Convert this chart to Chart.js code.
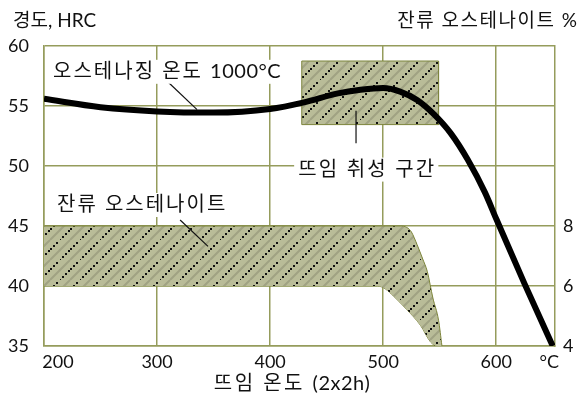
<!DOCTYPE html>
<html>
<head>
<meta charset="utf-8">
<script src="https://cdn.jsdelivr.net/npm/chart.js@4.4.0/dist/chart.umd.min.js"></script>
<style>
  html, body { margin: 0; background: #fff; }
</style>
</head>
<body>
<canvas id="chart" width="585" height="407"></canvas>
<script>
// -------------------------------
// DONNÉES
// -------------------------------
const xTicks = [200, 300, 400, 500, 600];
const yTicks = [35, 40, 45, 50, 55, 60];
const austTicks = [4, 6, 8];

// dureté HRC selon la température de revenu
const tempX    = [200, 250, 300, 350, 400, 430, 460, 480, 500, 515, 530, 545, 560, 575, 590, 600, 625, 650];
const hardness = [55.6, 54.9, 54.55, 54.45, 54.75, 55.3, 56.05, 56.35, 56.5, 56.2, 55.5, 54.3, 52.7, 50.5, 47.8, 45.6, 40.2, 35];

// austénite résiduelle (%) : bornes haute et basse de la bande
const austUpperX = [200, 515, 521, 525, 530, 535, 539, 544, 549, 552];
const austUpper  = [8, 8, 7.95, 7.8, 7.38, 6.9, 6.49, 5.6, 4.86, 4];
const austLowerX = [200, 495, 502, 509, 521, 533, 542, 548, 552];
const austLower  = [6, 6, 5.9, 5.67, 5.21, 4.69, 4.13, 4, 4];

// zone de fragilité de revenu
const brittleX = [428, 549];
const brittleY = [53.45, 58.75];

// -------------------------------
// STYLES
// -------------------------------
const FONT = "Lato, 'Noto Sans CJK KR', sans-serif";
const gridColor = '#959c5c';
const edgeColor = '#7d853c';

function makeHatch() {
    const c = document.createElement('canvas');
    c.width = 20; c.height = 20;
    const g = c.getContext('2d');
    g.fillStyle = '#b9bc98';
    g.fillRect(0, 0, 20, 20);
    // ligne grise floue entre deux lignes noires
    g.strokeStyle = 'rgba(60,60,50,0.2)';
    g.lineWidth = 2;
    g.beginPath();
    g.moveTo(-10, 20); g.lineTo(10, 0);
    g.moveTo(10, 20); g.lineTo(30, 0);
    g.stroke();
    g.fillStyle = '#111';
    for (let i = 0; i < 7; i++) {
        const t = i * 20 / 7;
        g.fillRect(Math.round(t) - 1, Math.round(20 - t) - 1, 2, 2);
    }
    return g.createPattern(c, 'repeat');
}
const hatch = makeHatch();

const pts = (xs, ys) => xs.map((v, i) => ({ x: v, y: ys[i] }));

// texte en morceaux : coréen espacé, latin normal
function drawParts(ctx, parts, x0, y0, align) {
    const widths = parts.map(p => { ctx.letterSpacing = p[1] + 'px'; return ctx.measureText(p[0]).width; });
    const total = widths.reduce((a, b) => a + b, 0);
    let x = align === 'center' ? x0 - total / 2 : align === 'right' ? x0 - total : x0;
    ctx.textAlign = 'left';
    parts.forEach((p, i) => {
        ctx.letterSpacing = p[1] + 'px';
        ctx.fillText(p[0], x, y0);
        x += widths[i];
    });
    ctx.letterSpacing = '0px';
    return total;
}

// -------------------------------
// TEXTES ET ANNOTATIONS
// -------------------------------
const annotations = {
    id: 'annotations',
    afterDatasetsDraw(chart) {
        const { ctx, scales: { x, y } } = chart;
        const px = v => x.getPixelForValue(v);
        const py = v => y.getPixelForValue(v);

        ctx.save();
        ctx.strokeStyle = '#111';
        ctx.lineWidth = 1.2;
        const leader = (x1, y1, x2, y2) => {
            ctx.beginPath();
            ctx.moveTo(px(x1), py(y1));
            ctx.lineTo(px(x2), py(y2));
            ctx.stroke();
        };
        leader(309.7, 57.0, 335.4, 54.7);
        leader(476, 54.6, 476, 51.9);
        leader(320.4, 45.5, 345.1, 43.3);

        ctx.font = '20px ' + FONT;
        ctx.textBaseline = 'middle';
        const label = (parts, xv, yv) => {
            const w = parts.reduce((s, p) => { ctx.letterSpacing = p[1] + 'px'; return s + ctx.measureText(p[0]).width; }, 0);
            ctx.fillStyle = '#fff';
            ctx.fillRect(px(xv) - 4, py(yv) - 12, w + 6, 24);
            ctx.fillStyle = '#111';
            drawParts(ctx, parts, px(xv), py(yv), 'left');
        };
        label([['오스테나징 온도 ', 2], ['1000°C', 0.5]], 208, 57.85);
        label([['뜨임 취성 구간', 2.2]], 424.8, 49.7);
        label([['잔류 오스테나이트', 2]], 211.5, 46.75);
        ctx.restore();
    },
    afterDraw(chart) {
        const { ctx, scales: { x } } = chart;
        ctx.save();
        ctx.fillStyle = '#111';
        ctx.textBaseline = 'middle';
        ctx.font = '19px ' + FONT;
        ctx.textAlign = 'left';
        ctx.fillText('경도, HRC', 13, 21);
        drawParts(ctx, [['잔류 오스테나이트 ', 1.5], ['%', 0]], 577, 21, 'right');
        ctx.font = '20px ' + FONT;
        drawParts(ctx, [['뜨임 온도 ', 2.5], ['(2x2h)', 0.5]], 292, 384, 'center');

        ctx.font = '18px ' + FONT;
        ctx.textAlign = 'center';
        const ty = x.top + 5 + 10.8;
        ctx.fillText('200', x.getPixelForValue(200) + 14, ty);
        ctx.fillText('°C', x.getPixelForValue(647), ty);
        ctx.restore();
    }
};

// -------------------------------
// GRAPHIQUE
// -------------------------------
const ctx = document.getElementById('chart').getContext('2d');
new Chart(ctx, {
    type: 'line',
    data: {
        datasets: [
            {
                label: '경도',
                data: pts(tempX, hardness),
                borderColor: '#000',
                borderWidth: 6,
                pointRadius: 0,
                cubicInterpolationMode: 'monotone',
                fill: false,
                yAxisID: 'y',
                order: 0
            },
            {
                label: '뜨임 취성 구간',
                data: [
                    { x: brittleX[0], y: brittleY[0] },
                    { x: brittleX[0], y: brittleY[1] },
                    { x: brittleX[1], y: brittleY[1] },
                    { x: brittleX[1], y: brittleY[0] },
                    { x: brittleX[0], y: brittleY[0] }
                ],
                borderColor: edgeColor,
                borderWidth: 1,
                backgroundColor: hatch,
                pointRadius: 0,
                tension: 0,
                fill: 'shape',
                yAxisID: 'y',
                order: 1
            },
            {
                label: 'lower',
                data: pts(austLowerX, austLower),
                borderColor: edgeColor,
                borderWidth: 1,
                pointRadius: 0,
                cubicInterpolationMode: 'monotone',
                fill: false,
                yAxisID: 'y2',
                order: 3
            },
            {
                label: '잔류 오스테나이트',
                data: pts(austUpperX, austUpper),
                borderColor: edgeColor,
                borderWidth: 1,
                backgroundColor: hatch,
                pointRadius: 0,
                cubicInterpolationMode: 'monotone',
                fill: '-1',
                yAxisID: 'y2',
                order: 2
            }
        ]
    },
    options: {
        responsive: false,
        animation: false,
        events: [],
        layout: { padding: { top: 46, left: 0, right: 0, bottom: 0 } },
        plugins: {
            legend: { display: false },
            tooltip: { enabled: false }
        },
        scales: {
            x: {
                type: 'linear',
                min: 200,
                max: 652,
                afterBuildTicks: s => { s.ticks = xTicks.map(v => ({ value: v })); },
                afterFit: s => { s.height = 61; },
                ticks: {
                    callback: v => (v === 200 ? '' : v),
                    color: '#111',
                    font: { family: FONT, size: 18 },
                    padding: 5,
                    maxRotation: 0,
                    autoSkip: false
                },
                grid: { color: gridColor, lineWidth: 1.5, drawTicks: false },
                border: { color: gridColor, width: 1.5 }
            },
            y: {
                type: 'linear',
                position: 'left',
                min: 35,
                max: 60,
                afterBuildTicks: s => { s.ticks = yTicks.map(v => ({ value: v })); },
                afterFit: s => { s.width = 44; },
                ticks: {
                    color: '#111',
                    font: { family: FONT, size: 18 },
                    padding: 15
                },
                grid: { color: gridColor, lineWidth: 1.5, drawTicks: false },
                border: { color: gridColor, width: 1.5 }
            },
            y2: {
                type: 'linear',
                position: 'right',
                min: 4,
                max: 14,
                afterBuildTicks: s => { s.ticks = austTicks.map(v => ({ value: v })); },
                afterFit: s => { s.width = 30; },
                ticks: {
                    color: '#111',
                    font: { family: FONT, size: 18 },
                    padding: 8
                },
                grid: { display: false, drawTicks: false },
                border: { color: gridColor, width: 1.5 }
            }
        }
    },
    plugins: [annotations]
});
</script>
</body>
</html>
